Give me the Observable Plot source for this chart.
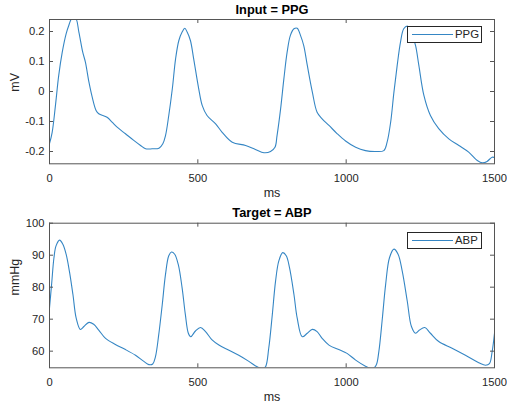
<!DOCTYPE html>
<html>
<head>
<meta charset="utf-8">
<script src="https://cdn.jsdelivr.net/npm/d3@7"></script>
<script src="https://cdn.jsdelivr.net/npm/@observablehq/plot@0.6"></script>
<style>
  html, body { margin: 0; padding: 0; background: #fff; }
  #wrap { position: relative; width: 507px; height: 409px; overflow: hidden; font-family: "Liberation Sans", Arial, sans-serif; }
  .panel { position: absolute; left: 0; }
  .legend { position: absolute; box-sizing: border-box; border: 1px solid #262626; background: #fff; height: 17px; width: 75px; }
  .legend .ln { position: absolute; left: 4px; width: 41px; top: 7px; height: 0; border-top: 1px solid #3586c4; }
  .legend .tx { position: absolute; left: 47px; top: 1px; font-size: 11.4px; line-height: 13px; color: #262626; }
</style>
</head>
<body>
<div id="wrap">
  <div class="panel" id="top" style="top:0"></div>
  <div class="panel" id="bot" style="top:204px"></div>
  <div class="legend" style="left:407px;top:26px"><div class="ln"></div><div class="tx">PPG</div></div>
  <div class="legend" style="left:407px;top:232px"><div class="ln"></div><div class="tx">ABP</div></div>
</div>
<script>
// ---- data ----
const xTicks = [0, 500, 1000, 1500];

const ppgTime = [0,9,20,31,43,56,65,76,88,99,112,121,133,144,157,166,194,211,228,256,284,307,324,346,369,382,391,402,414,425,436,447,456,464,475,486,503,515,531,560,582,616,661,694,723,745,760,767,779,790,801,812,824,835,846,857,869,886,902,919,942,970,998,1032,1065,1099,1127,1138,1150,1161,1172,1183,1194,1206,1215,1225,1234,1245,1262,1284,1312,1346,1380,1413,1442,1459,1475,1492,1500];
const ppgValue = [-0.174,-0.136,-0.047,0.053,0.131,0.192,0.22,0.245,0.245,0.198,0.131,0.098,0.031,-0.019,-0.063,-0.074,-0.086,-0.102,-0.119,-0.141,-0.163,-0.18,-0.191,-0.191,-0.189,-0.174,-0.147,-0.08,0.009,0.109,0.17,0.198,0.211,0.198,0.17,0.109,0.009,-0.047,-0.08,-0.108,-0.136,-0.169,-0.18,-0.193,-0.204,-0.2,-0.186,-0.147,-0.058,0.042,0.131,0.187,0.209,0.211,0.187,0.153,0.087,-0.002,-0.069,-0.091,-0.113,-0.141,-0.165,-0.186,-0.197,-0.2,-0.197,-0.169,-0.102,-0.002,0.087,0.164,0.209,0.218,0.21,0.18,0.153,0.087,-0.013,-0.08,-0.124,-0.158,-0.18,-0.202,-0.23,-0.238,-0.233,-0.219,-0.22];
const ppgTicks = [-0.2, -0.1, 0, 0.1, 0.2];

const abpTime = [0,7,15,22,34,45,56,67,79,90,104,116,133,149,166,189,222,256,290,318,335,348,357,368,380,391,402,411,422,434,447,458,468,476,492,509,526,548,571,605,638,672,700,717,728,739,751,762,773,786,798,809,824,835,852,869,886,902,919,942,975,1003,1032,1065,1088,1101,1110,1122,1133,1146,1161,1175,1189,1206,1220,1234,1247,1265,1284,1312,1357,1402,1447,1470,1483,1492,1500];
const abpValue = [73.5,80.8,89.2,92.9,94.7,93.4,90.3,85.0,77.7,70.3,66.8,67.7,69.0,68.4,66.6,64.0,62.1,60.5,58.7,56.8,55.8,56.0,58.2,65.0,74.5,84.0,89.8,91.0,90.3,87.1,79.8,71.4,65.6,64.5,66.3,67.4,66.1,63.5,61.9,60.3,58.7,56.8,55.1,54.5,55.1,60.9,71.4,81.9,88.2,90.8,89.8,86.1,77.7,70.3,64.5,65.6,66.8,66.1,64.0,61.9,60.5,59.3,57.2,55.3,54.5,55.6,59.8,70.3,80.8,89.2,91.9,90.3,85.0,75.6,67.7,65.6,66.6,67.4,65.6,63.0,60.9,58.7,56.4,55.6,56.1,59.8,65.6];
const abpTicks = [60, 70, 80, 90, 100];

const ppg = ppgTime.map((t, i) => ({t, v: ppgValue[i]}));
const abp = abpTime.map((t, i) => ({t, v: abpValue[i]}));

const lineColor = "#3586c4";
const ink = "#262626";
const axisInk = "#555";
const fmt = d => String(d);

function panel({data, yDomain, yTicks, title, yLabel, height, marginTop, marginBottom}) {
  const marginLeft = 49, marginRight = 13, width = 507;
  const fh = height - marginTop - marginBottom;   // frame height in px
  const fw = width - marginLeft - marginRight;    // frame width in px
  const tl = 4;                                   // inward tick length
  return Plot.plot({
    width, height, marginLeft, marginRight, marginTop, marginBottom,
    style: {fontFamily: "'Liberation Sans', Arial, sans-serif", fontSize: "11.2px", color: ink, background: "#fff", overflow: "visible"},
    x: {domain: [0, 1500], axis: null},
    y: {domain: yDomain, axis: null},
    marks: [
      Plot.line(data, {x: "t", y: "v", stroke: lineColor, strokeWidth: 1.1, curve: "catmull-rom", clip: true}),
      // inward ticks on all four sides
      Plot.ruleX(xTicks, {x: d => d, insetTop: fh - tl, stroke: axisInk}),
      Plot.ruleX(xTicks, {x: d => d, insetBottom: fh - tl, stroke: axisInk}),
      Plot.ruleY(yTicks, {y: d => d, insetRight: fw - tl, stroke: axisInk}),
      Plot.ruleY(yTicks, {y: d => d, insetLeft: fw - tl, stroke: axisInk}),
      Plot.frame({stroke: axisInk, strokeWidth: 1}),
      // tick labels
      Plot.axisX(xTicks, {anchor: "bottom", tickSize: 0, tickPadding: 10, tickFormat: fmt, label: null, fill: ink}),
      Plot.axisY(yTicks, {anchor: "left", tickSize: 0, tickPadding: 5, tickFormat: fmt, label: null, fill: ink}),
      // title and axis labels
      Plot.text([title], {frameAnchor: "top", dy: -10, lineAnchor: "middle", fontWeight: "bold", fontSize: 12.8, fill: "#000"}),
      Plot.text(["ms"], {frameAnchor: "bottom", dy: 29.5, lineAnchor: "middle", fontSize: 12.5, fill: ink}),
      Plot.text([yLabel], {frameAnchor: "left", dx: -35, rotate: -90, lineAnchor: "middle", fontSize: 12.5, fill: ink})
    ]
  });
}

document.getElementById("top").append(panel({
  data: ppg, yDomain: [-0.241, 0.24], yTicks: ppgTicks,
  title: "Input = PPG", yLabel: "mV", height: 204, marginTop: 19, marginBottom: 40.7
}));
document.getElementById("bot").append(panel({
  data: abp, yDomain: [54.8, 100], yTicks: abpTicks,
  title: "Target = ABP", yLabel: "mmHg", height: 205, marginTop: 18.7, marginBottom: 41.7
}));
</script>
</body>
</html>
